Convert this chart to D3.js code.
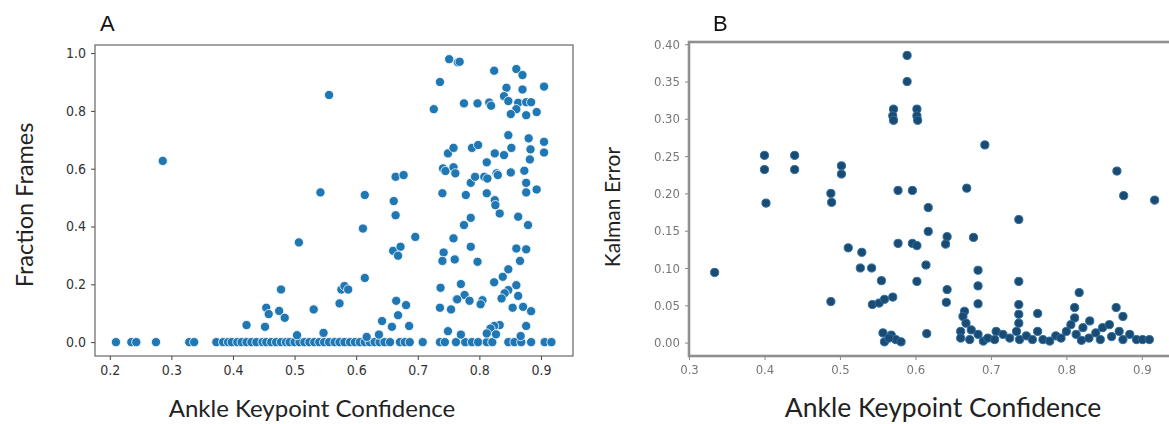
<!DOCTYPE html>
<html>
<head>
<meta charset="utf-8">
<script src="https://cdn.jsdelivr.net/npm/d3@7"></script>
<style>
  body { margin: 0; background: #fff; }
  svg { display: block; }
</style>
</head>
<body>
<div id="chart"></div>
<script>
/**
 * DATA
 */
// panel A : ankle keypoint confidence vs fraction frames
const confA = [
  0.210,0.235,0.243,0.275,0.329,0.337,
  0.373,0.384,0.392,0.398,0.407,0.414,0.422,0.430,0.438,0.448,0.454,0.462,0.470,0.478,0.486,0.492,0.500,0.508,0.516,0.524,0.532,0.540,0.548,0.556,
  0.565,0.573,0.581,0.590,0.598,0.606,0.614,0.622,0.630,0.638,0.646,0.655,0.671,0.679,0.687,0.708,
  0.736,0.744,0.762,0.777,0.788,0.798,0.812,0.821,0.847,0.857,0.868,0.884,0.906,0.917,
  0.286,
  0.422,0.452,0.454,0.458,0.475,0.484,0.478,0.507,0.504,0.531,0.542,0.547,0.556,
  0.573,0.576,0.581,0.587,
  0.614,0.611,0.614,0.617,0.637,0.642,0.658,0.665,0.668,0.681,0.686,
  0.660,0.672,0.668,0.661,0.664,0.664,0.677,0.696,
  0.726,0.736,0.751,0.765,
  0.741,0.745,0.758,0.761,0.749,0.758,0.740,0.758,0.742,0.740,0.760,0.737,0.736,0.754,0.749,0.763,
  0.768,0.824,0.860,0.870,0.844,0.870,0.905,0.840,0.847,
  0.775,0.797,0.816,0.819,0.863,0.876,0.884,
  0.860,0.851,0.876,0.893,
  0.847,0.880,0.905,0.905,0.883,0.882,0.852,0.825,0.840,0.788,0.798,0.812,
  0.786,0.793,0.808,0.813,0.828,0.830,0.851,0.873,0.876,0.876,0.893,
  0.778,0.812,0.825,0.826,0.833,0.775,0.786,0.863,0.879,
  0.786,0.797,0.860,0.876,0.866,
  0.847,0.838,0.824,0.770,0.860,
  0.847,0.841,0.836,0.863,0.776,0.764,0.784,0.805,0.802,
  0.854,0.871,0.884,
  0.833,0.824,0.818,0.812,0.827,0.876,0.770,0.867
];
const fracA = [
  0,0,0,0,0,0,
  0,0,0,0,0,0,0,0,0,0,0,0,0,0,0,0,0,0,0,0,0,0,0,0,
  0,0,0,0,0,0,0,0,0,0,0,0,0,0,0,0,
  0,0,0,0,0,0,0,0,0,0,0,0,0,0,
  0.627,
  0.059,0.053,0.119,0.097,0.108,0.084,0.182,0.345,0.024,0.113,0.518,0.032,0.855,
  0.134,0.182,0.194,0.182,
  0.509,0.393,0.222,0.018,0.026,0.073,0.053,0.143,0.093,0.128,0.056,
  0.316,0.330,0.299,0.488,0.439,0.572,0.578,0.364,
  0.806,0.900,0.979,0.968,
  0.601,0.592,0.605,0.584,0.653,0.672,0.515,0.359,0.310,0.281,0.286,0.188,0.119,0.113,0.038,0.148,
  0.970,0.939,0.945,0.924,0.880,0.874,0.884,0.851,0.834,
  0.826,0.826,0.829,0.818,0.828,0.830,0.830,
  0.806,0.789,0.785,0.796,
  0.716,0.705,0.693,0.656,0.667,0.632,0.672,0.653,0.647,0.672,0.682,0.622,
  0.551,0.572,0.572,0.566,0.584,0.578,0.587,0.593,0.551,0.518,0.528,
  0.509,0.515,0.491,0.474,0.445,0.405,0.430,0.434,0.405,
  0.330,0.278,0.324,0.321,0.281,
  0.252,0.226,0.207,0.201,0.197,
  0.180,0.169,0.151,0.160,0.163,0.148,0.143,0.145,0.131,
  0.119,0.122,0.107,
  0.059,0.056,0.047,0.030,0.027,0.056,0.026,0.021
];

// panel B : ankle keypoint confidence vs kalman error
const confB = [
  0.334,0.400,0.400,0.402,0.440,0.440,0.502,0.502,0.488,0.489,0.488,
  0.511,0.529,0.527,0.542,0.555,0.543,0.552,0.559,0.570,
  0.557,0.559,0.568,0.574,0.581,0.565,
  0.589,0.589,0.571,0.570,0.571,0.602,0.602,0.603,
  0.577,0.596,0.577,0.596,0.602,0.602,0.614,0.617,0.617,0.615,
  0.642,0.640,0.642,0.641,0.668,0.677,0.683,0.683,0.683,0.692,
  0.665,0.663,0.667,0.660,0.660,0.674,0.672,0.683,0.690,0.696,0.705,
  0.737,0.737,0.737,0.737,0.737,0.762,0.817,0.811,0.811,0.866,0.875,0.867,0.876,0.917,
  0.707,0.716,0.725,0.734,0.738,0.747,0.755,0.762,0.769,0.786,0.793,0.800,0.806,0.813,0.822,0.831,0.839,0.848,0.857,0.870,0.875,0.884,0.893,0.901,0.910,
  0.778,0.820,0.830,0.845,0.860
];
const errB = [
  0.094,0.251,0.232,0.187,0.251,0.232,0.237,0.226,0.200,0.188,0.055,
  0.127,0.121,0.100,0.100,0.083,0.051,0.053,0.058,0.061,
  0.013,0.001,0.010,0.004,0.001,0.006,
  0.385,0.350,0.313,0.304,0.298,0.313,0.304,0.298,
  0.204,0.204,0.133,0.133,0.130,0.082,0.104,0.181,0.149,0.012,
  0.142,0.132,0.071,0.054,0.207,0.141,0.097,0.076,0.052,0.265,
  0.042,0.035,0.026,0.015,0.006,0.017,0.004,0.011,0.002,0.006,0.004,
  0.165,0.082,0.051,0.038,0.026,0.039,0.067,0.047,0.033,0.047,0.035,0.230,0.197,0.191,
  0.015,0.011,0.006,0.015,0.004,0.009,0.004,0.015,0.004,0.009,0.006,0.015,0.024,0.011,0.020,0.029,0.013,0.020,0.024,0.015,0.004,0.011,0.004,0.004,0.004,
  0.002,0.003,0.006,0.004,0.008
];

// ticks
const xTicksA = [0.2,0.3,0.4,0.5,0.6,0.7,0.8,0.9];
const yTicksA = [0.0,0.2,0.4,0.6,0.8,1.0];
const xTicksB = [0.3,0.4,0.5,0.6,0.7,0.8,0.9];
const yTicksB = [0.00,0.05,0.10,0.15,0.20,0.25,0.30,0.35,0.40];

/**
 * LAYOUT
 */
const WIDTH = 1169, HEIGHT = 424;
const TICK_FONT = "'DejaVu Sans Condensed', 'Liberation Sans Narrow', 'DejaVu Sans', sans-serif";
const TITLE_FONT = "Lato, 'Open Sans', sans-serif";

const svg = d3.select("#chart").append("svg")
  .attr("width", WIDTH)
  .attr("height", HEIGHT);

svg.append("rect").attr("width", WIDTH).attr("height", HEIGHT).attr("fill", "#fff");

// blur for the (low quality) panel B
svg.append("defs").append("filter")
  .attr("id", "soft")
  .attr("x", "-5%").attr("y", "-5%").attr("width", "110%").attr("height", "110%")
  .append("feGaussianBlur").attr("stdDeviation", 0.75);

/**
 * Panel A
 */
function drawPanelA(){
  let x = d3.scaleLinear().domain([0.176, 0.952]).range([95, 573]);
  let y = d3.scaleLinear().domain([-0.048, 1.028]).range([356, 45]);
  let g = svg.append("g").attr("id", "panelA");

  let pts = confA.map((c, i) => ({c: c, v: fracA[i]}));
  g.selectAll("circle").data(pts).enter().append("circle")
    .attr("cx", d => x(d.c))
    .attr("cy", d => y(d.v))
    .attr("r", 4.6)
    .attr("fill", "#1f77b4")
    .attr("stroke", "#fff")
    .attr("stroke-width", 0.8);

  // frame
  g.append("rect")
    .attr("x", x.range()[0]).attr("y", y.range()[1])
    .attr("width", x.range()[1] - x.range()[0])
    .attr("height", y.range()[0] - y.range()[1])
    .attr("fill", "none").attr("stroke", "#666").attr("stroke-width", 1.2);

  let xa = g.append("g").attr("transform", "translate(0," + y.range()[0] + ")")
    .call(d3.axisBottom(x).tickValues(xTicksA).tickFormat(d3.format(".1f")).tickSize(4).tickPadding(5));
  let ya = g.append("g").attr("transform", "translate(" + x.range()[0] + ",0)")
    .call(d3.axisLeft(y).tickValues(yTicksA).tickFormat(d3.format(".1f")).tickSize(4).tickPadding(5));
  for (let a of [xa, ya]){
    a.select(".domain").remove();
    a.selectAll("line").attr("stroke", "#444");
    a.selectAll("text").attr("fill", "#333")
      .style("font-family", TICK_FONT).style("font-stretch", "condensed").style("font-size", "14px");
  }

  g.append("text").attr("x", 312).attr("y", 417)
    .attr("text-anchor", "middle").attr("fill", "#222")
    .style("font-family", TITLE_FONT).style("font-size", "24px")
    .text("Ankle Keypoint Confidence");
  g.append("text").attr("transform", "translate(33,205) rotate(-90)")
    .attr("text-anchor", "middle").attr("fill", "#222")
    .style("font-family", TITLE_FONT).style("font-size", "23.5px")
    .text("Fraction Frames");
  g.append("text").attr("x", 100).attr("y", 31)
    .attr("fill", "#111")
    .style("font-family", "'Liberation Sans', Arial, sans-serif").style("font-size", "22px")
    .text("A");
}

/**
 * Panel B
 */
function drawPanelB(){
  let x = d3.scaleLinear().domain([0.3, 0.94]).range([689, 1172]);
  let y = d3.scaleLinear().domain([-0.018, 0.403]).range([356, 42]);
  let g = svg.append("g").attr("id", "panelB");
  let blurred = g.append("g").attr("filter", "url(#soft)");

  let pts = confB.map((c, i) => ({c: c, v: errB[i]}));
  blurred.selectAll("circle").data(pts).enter().append("circle")
    .attr("cx", d => x(d.c))
    .attr("cy", d => y(d.v))
    .attr("r", 4.1)
    .attr("fill", "#1c4b72")
    .attr("stroke", "#2a6ea6")
    .attr("stroke-width", 1);

  blurred.append("rect")
    .attr("x", x.range()[0]).attr("y", y.range()[1])
    .attr("width", x.range()[1] - x.range()[0])
    .attr("height", y.range()[0] - y.range()[1])
    .attr("fill", "none").attr("stroke", "#8f8f8f").attr("stroke-width", 2.6);

  let xa = blurred.append("g").attr("transform", "translate(0," + y.range()[0] + ")")
    .call(d3.axisBottom(x).tickValues(xTicksB).tickFormat(d3.format(".1f")).tickSize(4).tickPadding(5));
  let ya = blurred.append("g").attr("transform", "translate(" + x.range()[0] + ",0)")
    .call(d3.axisLeft(y).tickValues(yTicksB).tickFormat(d3.format(".2f")).tickSize(4).tickPadding(5));
  for (let a of [xa, ya]){
    a.select(".domain").remove();
    a.selectAll("line").attr("stroke", "#888");
    a.selectAll("text").attr("fill", "#777")
      .style("font-family", TICK_FONT).style("font-stretch", "condensed").style("font-size", "13px");
  }

  g.append("text").attr("x", 943).attr("y", 417)
    .attr("text-anchor", "middle").attr("fill", "#222")
    .style("font-family", TITLE_FONT).style("font-size", "26.5px")
    .text("Ankle Keypoint Confidence");
  g.append("text").attr("transform", "translate(620,207) rotate(-90)")
    .attr("text-anchor", "middle").attr("fill", "#222")
    .style("font-family", TITLE_FONT).style("font-size", "21px")
    .text("Kalman Error");
  g.append("text").attr("x", 713).attr("y", 31)
    .attr("fill", "#111")
    .style("font-family", "'Liberation Sans', Arial, sans-serif").style("font-size", "22px")
    .text("B");
}

drawPanelA();
drawPanelB();
</script>
</body>
</html>
